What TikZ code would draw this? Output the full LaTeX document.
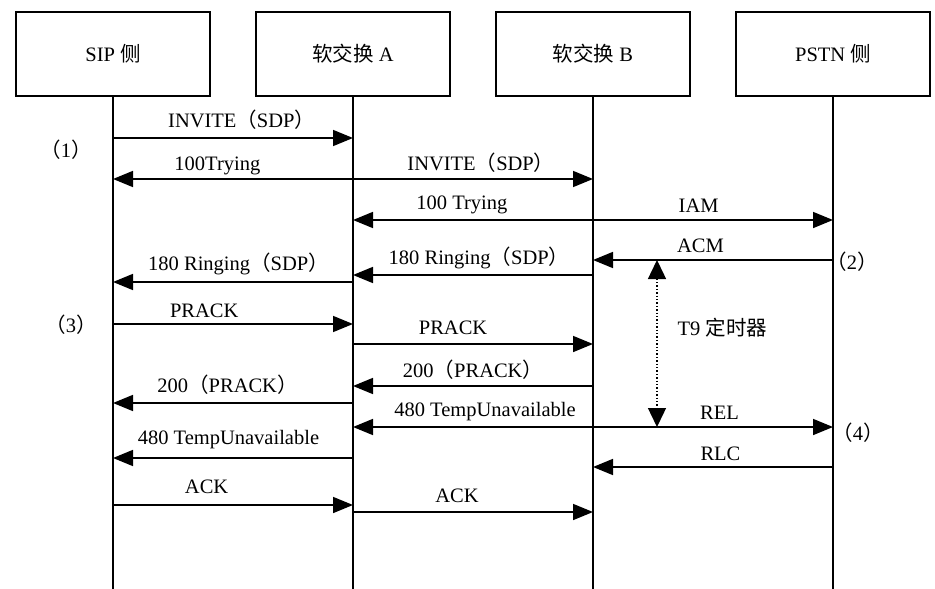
\documentclass[tikz,border=0pt]{standalone}
\usepackage{fontspec}
\setmainfont{Liberation Serif}
\newfontfamily\cjk{Noto Sans CJK SC}
\newcommand{\zh}[1]{{\cjk #1}}
\usetikzlibrary{positioning,arrows.meta}

\begin{document}
\begin{tikzpicture}[
  x=1pt, y=-1pt,
  font=\fontsize{20.5}{23}\selectfont,
  node distance=44.2pt,
  party/.style={draw=black, line width=1.8pt, minimum width=194pt, minimum height=84pt, inner sep=2pt},
  life/.style={draw=black, line width=1.6pt},
  msg/.style={-{Triangle[length=20pt, width=16pt]}, draw=black, line width=1.6pt},
  lbl/.style={inner sep=0pt, text height=.7em, text depth=.2em},
  timer/.style={{Triangle[length=19pt, width=18pt]}-{Triangle[length=19pt, width=18pt]}, draw=black, dotted, line width=1.4pt},
  tag/.style={inner sep=0pt}
]
\useasboundingbox (0,0) rectangle (935,589);
\node[party] (sip) at (113,54) {SIP \zh{侧}};
\node[party, right=of sip] (swa) {\zh{软交换} A};
\node[party, right=of swa] (swb) {\zh{软交换} B};
\node[party, right=of swb] (pstn) {PSTN \zh{侧}};
% lifelines
\coordinate (bot) at (0,589);
\draw[life] (sip.south) -- (sip |- bot);
\draw[life] (swa.south) -- (swa |- bot);
\draw[life] (swb.south) -- (swb |- bot);
\draw[life] (pstn.south) -- (pstn |- bot);
% message rows
\coordinate (m1) at (0,138);
\coordinate (m2) at (0,179);
\coordinate (m3) at (0,220);
\coordinate (m4) at (0,260);
\coordinate (m5) at (0,275);
\coordinate (m6) at (0,282);
\coordinate (m7) at (0,324);
\coordinate (m8) at (0,344);
\coordinate (m9) at (0,386);
\coordinate (m10) at (0,403);
\coordinate (m11) at (0,427);
\coordinate (m12) at (0,458);
\coordinate (m13) at (0,467);
\coordinate (m14) at (0,505);
\coordinate (m15) at (0,512);
\draw[msg] (sip |- m1) -- node[lbl, above=8pt, pos=.536] {INVITE\zh{（}SDP\zh{）}} (swa |- m1);
\draw[msg] (swa |- m2) -- node[lbl, above=6pt, pos=.565] {100Trying} (sip |- m2);
\draw[msg] (swa |- m2) -- node[lbl, above=6pt, pos=.533] {INVITE\zh{（}SDP\zh{）}} (swb |- m2);
\draw[msg] (swb |- m3) -- node[lbl, above=8pt, pos=.546] {100 Trying} (swa |- m3);
\draw[msg] (swb |- m3) -- node[lbl, above=5pt, pos=.44] {IAM} (pstn |- m3);
\draw[msg] (pstn |- m4) -- node[lbl, above=5pt, pos=.552] {ACM} (swb |- m4);
\draw[msg] (swb |- m5) -- node[lbl, above=8pt, pos=.475] {180 Ringing\zh{（}SDP\zh{）}} (swa |- m5);
\draw[msg] (swa |- m6) -- node[lbl, above=9pt, pos=.477] {180 Ringing\zh{（}SDP\zh{）}} (sip |- m6);
\draw[msg] (sip |- m7) -- node[lbl, above=4pt, pos=.38] {PRACK} (swa |- m7);
\draw[msg] (swa |- m8) -- node[lbl, above=7pt, pos=.417] {PRACK} (swb |- m8);
\draw[msg] (swb |- m9) -- node[lbl, above=6pt, pos=.5] {200\zh{（}PRACK\zh{）}} (swa |- m9);
\draw[msg] (swa |- m10) -- node[lbl, above=8pt, pos=.523] {200\zh{（}PRACK\zh{）}} (sip |- m10);
\draw[msg] (swb |- m11) -- node[lbl, above=8pt, pos=.45] {480 TempUnavailable} (swa |- m11);
\draw[msg] (swb |- m11) -- node[lbl, above=5pt, pos=.527] {REL} (pstn |- m11);
\draw[msg] (swa |- m12) -- node[lbl, above=11pt, pos=.519] {480 TempUnavailable} (sip |- m12);
\draw[msg] (pstn |- m13) -- node[lbl, above=4pt, pos=.469] {RLC} (swb |- m13);
\draw[msg] (sip |- m14) -- node[lbl, above=9pt, pos=.39] {ACK} (swa |- m14);
\draw[msg] (swa |- m15) -- node[lbl, above=7pt, pos=.433] {ACK} (swb |- m15);
% T9 timer
\coordinate (t9a) at (657,260);
\coordinate (t9b) at (657,427);
\draw[timer] (t9a) -- node[lbl, right=20pt, pos=.44] {T9 \zh{定时器}} (t9b);
% step marks
\node[tag] (n1) at (66,150) {\zh{（}1\zh{）}};
\node[tag] (n2) at (852,262) {\zh{（}2\zh{）}};
\node[tag] (n3) at (71,325) {\zh{（}3\zh{）}};
\node[tag] (n4) at (858,433) {\zh{（}4\zh{）}};
\end{tikzpicture}
\end{document}
